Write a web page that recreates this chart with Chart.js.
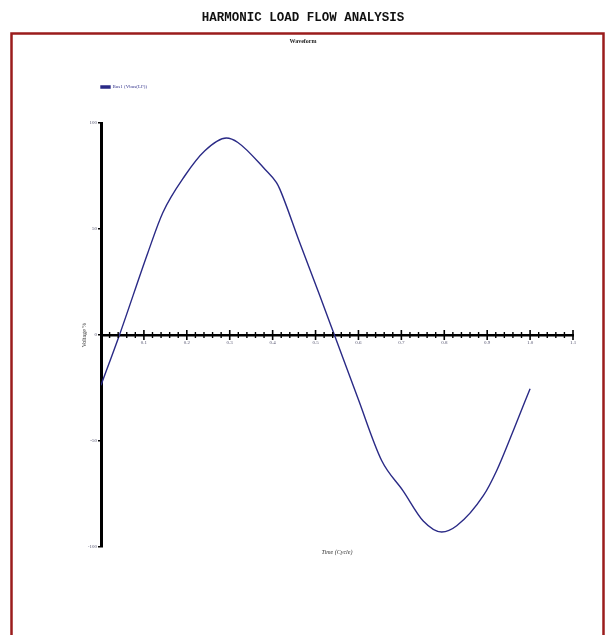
<!DOCTYPE html>
<html>
<head>
<meta charset="utf-8">
<script src="https://cdn.jsdelivr.net/npm/chart.js@4/dist/chart.umd.min.js"></script>
<style>
  html, body { margin: 0; padding: 0; background: #ffffff; }
  canvas { display: block; }
</style>
</head>
<body>
<canvas id="c" width="606" height="635"></canvas>
<script>
// ---- Data ----
const chartTitle = 'HARMONIC LOAD FLOW ANALYSIS';
const chartSubtitle = 'Waveform';
const seriesLabel = 'Bus1 (Vbus(LF))';
const xAxisTitle = 'Time (Cycle)';
const yAxisTitle = 'Voltage %';
// time in cycles
const times = [0, 0.043, 0.109, 0.144, 0.195, 0.242, 0.292, 0.319, 0.382, 0.409, 0.417, 0.463, 0.510, 0.544, 0.599, 0.654, 0.704, 0.751, 0.794, 0.829, 0.891, 0.922, 0.961, 1.0];
// voltage in %
const voltage = [-23.7, 0, 38.7, 57.7, 75, 86.9, 92.9, 90.8, 78.2, 71.9, 68.7, 43.6, 18.5, 0, -30, -59.2, -73.5, -87.7, -92.9, -90, -75.8, -64, -45, -25.3];
const xMin = 0, xMax = 1.1, xStep = 0.02;
const yMin = -100, yMax = 100, yStep = 50;

const points = times.map((t, i) => ({ x: t, y: voltage[i] }));
const isMajor = v => { const r = Math.round(v * 10); return Math.abs(v * 10 - r) < 1e-6; };

const frame = {
  id: 'frame',
  beforeDraw(chart) {
    const ctx = chart.ctx;
    ctx.save();
    ctx.strokeStyle = '#9b1c1c';
    ctx.lineWidth = 2.5;
    ctx.strokeRect(11.5, 33.5, chart.width - 14, chart.height + 20);
    ctx.restore();
  }
};

const legendShift = {
  id: 'legendShift',
  afterLayout(chart) {
    const lg = chart.legend;
    if (!lg) return;
    const dx = chart.chartArea.left - lg.left - lg.options.labels.padding;
    lg.left += dx;
    lg.right += dx;
  }
};

const crossTicks = {
  id: 'crossTicks',
  afterDatasetsDraw(chart) {
    const sx = chart.scales.x, sy = chart.scales.y;
    const y0 = sy.getPixelForValue(0);
    const ctx = chart.ctx;
    ctx.save();
    ctx.strokeStyle = '#000';
    sx.ticks.forEach(t => {
      const px = sx.getPixelForValue(t.value);
      const major = isMajor(t.value);
      const h = major ? 5 : 3;
      ctx.lineWidth = major ? 1.6 : 1.4;
      ctx.beginPath();
      ctx.moveTo(px, y0 - h);
      ctx.lineTo(px, y0 + h);
      ctx.stroke();
    });
    ctx.restore();
  }
};

new Chart(document.getElementById('c'), {
  type: 'line',
  data: {
    datasets: [{
      label: seriesLabel,
      data: points,
      borderColor: '#2a2a86',
      backgroundColor: '#2a2a86',
      borderWidth: 1.4,
      pointRadius: 0,
      cubicInterpolationMode: 'monotone',
      xAxisID: 'x',
      yAxisID: 'y'
    }]
  },
  options: {
    responsive: false,
    animation: false,
    devicePixelRatio: 1,
    layout: { padding: { left: 33, right: 33, top: 0, bottom: 79.4 } },
    plugins: {
      title: {
        display: true,
        text: chartTitle,
        color: '#111',
        font: { family: 'Liberation Mono', size: 12.5, weight: 'bold', lineHeight: 1.2 },
        padding: { top: 10.5, bottom: 11.9 }
      },
      subtitle: {
        display: true,
        text: chartSubtitle,
        color: '#222',
        font: { family: 'Liberation Serif', size: 6, weight: 'bold', lineHeight: 1.2 },
        padding: { top: 0, bottom: 11.9 }
      },
      legend: {
        display: true,
        position: 'top',
        align: 'start',
        labels: {
          boxWidth: 9,
          boxHeight: 2,
          padding: 28,
          color: '#3a3a90',
          font: { family: 'Liberation Serif', size: 5 }
        }
      },
      tooltip: { enabled: false }
    },
    scales: {
      x: {
        type: 'linear',
        position: { y: 0 },
        min: xMin,
        max: xMax,
        grid: { display: true, drawOnChartArea: false, drawTicks: false, tickLength: 0 },
        border: { display: true, color: '#000', width: 2.5 },
        ticks: {
          stepSize: xStep,
          autoSkip: false,
          maxRotation: 0,
          padding: 4.5,
          color: '#555570',
          font: { family: 'Liberation Serif', size: 5 },
          callback: v => (isMajor(v) && Math.round(v * 10) !== 0) ? (Math.round(v * 10) / 10).toFixed(1) : ''
        }
      },
      xt: {
        type: 'linear',
        position: 'top',
        display: true,
        grid: { display: false, drawTicks: false, tickLength: 0 },
        border: { display: false },
        ticks: { display: false },
        title: { display: true, text: ' ', font: { size: 10, lineHeight: 1 }, padding: { top: 13.5, bottom: 0 } }
      },
      xb: {
        type: 'linear',
        position: 'bottom',
        display: true,
        grid: { display: false, drawTicks: false, tickLength: 0 },
        border: { display: false },
        ticks: { display: false },
        title: {
          display: true,
          text: xAxisTitle,
          color: '#333',
          font: { family: 'Liberation Serif', size: 6, style: 'italic', lineHeight: 1.2 },
          padding: { top: 1.4, bottom: 0 }
        }
      },
      y: {
        type: 'linear',
        position: 'left',
        min: yMin,
        max: yMax,
        afterFit(scale) { scale.width = 68; },
        grid: { display: true, drawOnChartArea: false, drawTicks: true, tickLength: 3, color: '#000', lineWidth: 1.5 },
        border: { display: true, color: '#000', width: 3 },
        ticks: {
          stepSize: yStep,
          padding: 1,
          color: '#555570',
          font: { family: 'Liberation Serif', size: 5 }
        },
        title: {
          display: true,
          text: yAxisTitle,
          color: '#333',
          font: { family: 'Liberation Serif', size: 6, lineHeight: 1.2 },
          padding: { top: 47.4, bottom: 0 }
        }
      }
    }
  },
  plugins: [frame, legendShift, crossTicks]
});
</script>
</body>
</html>
